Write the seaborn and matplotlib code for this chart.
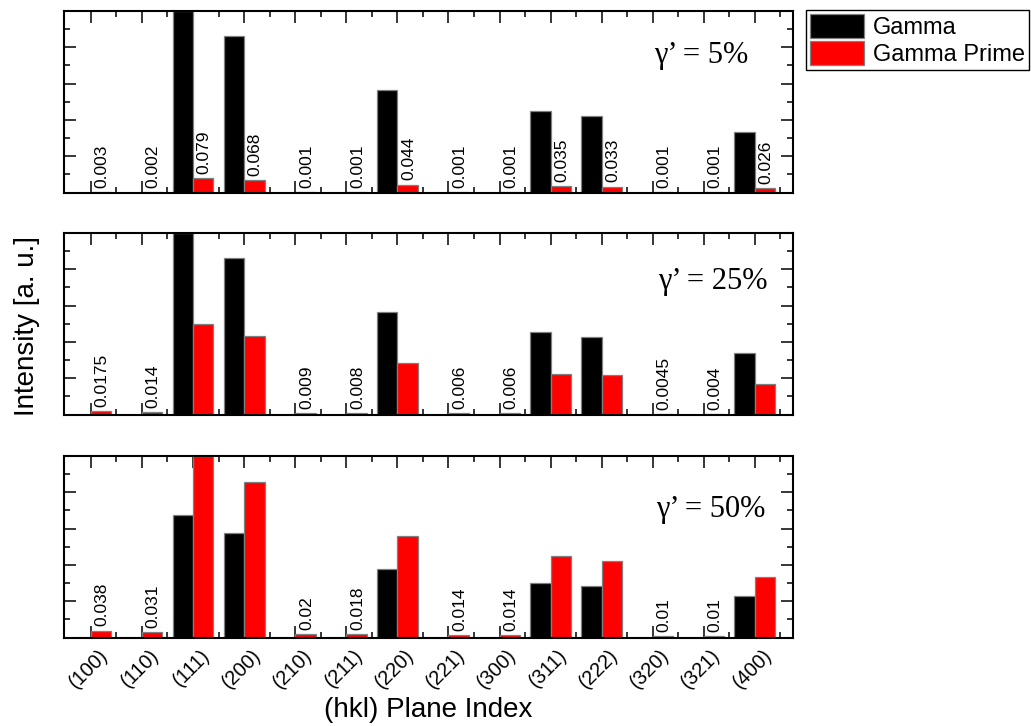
import numpy as np
import pandas as pd
import seaborn as sns
import matplotlib
matplotlib.use("Agg")
import matplotlib.pyplot as plt
from matplotlib.patches import Patch
from matplotlib.ticker import MultipleLocator, FixedLocator
from matplotlib.transforms import ScaledTranslation

# (hkl) reflections
planes = ["(100)", "(110)", "(111)", "(200)", "(210)", "(211)", "(220)",
          "(221)", "(300)", "(311)", "(222)", "(320)", "(321)", "(400)"]
phases = ["Gamma", "Gamma Prime"]

# normalised intensities, gamma' volume fraction 5 %
gamma_5 = [0, 0, 1.0, 0.862, 0, 0, 0.562, 0, 0, 0.451, 0.424, 0, 0, 0.333]
prime_5 = [0.003, 0.002, 0.079, 0.068, 0.001, 0.001, 0.044, 0.001, 0.001,
           0.035, 0.033, 0.001, 0.001, 0.026]
# gamma' volume fraction 25 %
gamma_25 = [0, 0, 1.0, 0.862, 0, 0, 0.564, 0, 0, 0.452, 0.428, 0, 0, 0.338]
prime_25 = [0.0175, 0.014, 0.500, 0.433, 0.009, 0.008, 0.284, 0.006, 0.006,
            0.225, 0.215, 0.0045, 0.004, 0.168]
# gamma' volume fraction 50 %
gamma_50 = [0, 0, 0.674, 0.578, 0, 0, 0.376, 0, 0, 0.302, 0.285, 0, 0, 0.230]
prime_50 = [0.038, 0.031, 1.0, 0.858, 0.02, 0.018, 0.561, 0.014, 0.014,
            0.449, 0.423, 0.01, 0.01, 0.335]

panel_titles = ["\u03b3\u2019 = 5%", "\u03b3\u2019 = 25%", "\u03b3\u2019 = 50%"]

# reflections whose gamma-prime intensity is written on the chart
labelled_5 = planes
labelled_25 = ["(100)", "(110)", "(210)", "(211)", "(221)", "(300)", "(320)", "(321)"]
labelled_50 = labelled_25

panels = [
    (gamma_5, prime_5, labelled_5),
    (gamma_25, prime_25, labelled_25),
    (gamma_50, prime_50, labelled_50),
]

sns.set_style("ticks")
plt.rcParams["font.family"] = ["Liberation Sans", "DejaVu Sans"]
plt.rcParams["text.color"] = "black"
plt.rcParams["axes.labelcolor"] = "black"
plt.rcParams["xtick.color"] = "black"
plt.rcParams["ytick.color"] = "black"

W, H = 1031, 726
fig = plt.figure(figsize=(W / 100, H / 100), dpi=100)

ax_left, ax_right = 64.3, 792.7
panel_tops = [11.0, 233.0, 456.0]
panel_h = 181.5
title_pos = [(748, 62.7), (768, 289), (765, 517)]
colors = {"Gamma": "black", "Gamma Prime": "red"}

axes = []
for k, (gam, pri, lab) in enumerate(panels):
    top = panel_tops[k]
    ax = fig.add_axes([ax_left / W, 1 - (top + panel_h) / H,
                       (ax_right - ax_left) / W, panel_h / H])
    df = pd.DataFrame({
        "plane": planes * 2,
        "phase": [phases[0]] * len(planes) + [phases[1]] * len(planes),
        "intensity": list(gam) + list(pri),
    })
    sns.barplot(data=df, x="plane", y="intensity", hue="phase",
                order=planes, hue_order=phases, palette=colors,
                saturation=1, width=0.8, edgecolor="#808080", linewidth=0.9,
                ax=ax, legend=False)
    ax.set_xlim(-0.52, 13.74)
    ax.set_ylim(0, 1)
    ax.set_xlabel("")
    ax.set_ylabel("")

    # value labels above the gamma-prime bars
    for name in lab:
        j = planes.index(name)
        ax.annotate(f"{pri[j]:g}", xy=(j + 0.22, pri[j]), xytext=(0, 3),
                    textcoords="offset points", rotation=90,
                    ha="center", va="bottom", fontsize=12.5, color="black")

    ax.yaxis.set_major_locator(MultipleLocator(0.2))
    ax.yaxis.set_minor_locator(MultipleLocator(0.1))
    ax.xaxis.set_major_locator(FixedLocator(np.arange(len(planes))))
    ax.xaxis.set_minor_locator(FixedLocator(np.arange(0.5, len(planes) - 0.4, 1)))
    ax.tick_params(which="both", direction="in", top=True, right=True,
                   left=True, bottom=True, labelleft=False, color="black")
    ax.tick_params(which="major", length=8.6, width=1.1)
    ax.tick_params(which="minor", length=4.3, width=1.1)
    for sp in ax.spines.values():
        sp.set_visible(True)
        sp.set_linewidth(1.5)
        sp.set_color("black")

    tx, ty = title_pos[k]
    fig.text(tx / W, 1 - ty / H, panel_titles[k], ha="right", va="baseline",
             fontsize=22, color="black",
             family=["Liberation Serif", "DejaVu Serif"])
    axes.append(ax)

for ax in axes[:-1]:
    ax.tick_params(labelbottom=False)

bottom_ax = axes[-1]
bottom_ax.set_xticks(np.arange(len(planes)))
bottom_ax.set_xticklabels(planes, rotation=45, ha="right", va="top",
                          rotation_mode="anchor", fontsize=14.5, color="black")
offset = ScaledTranslation(7 / 100, -3 / 100, fig.dpi_scale_trans)
for lbl in bottom_ax.get_xticklabels():
    lbl.set_transform(lbl.get_transform() + offset)

fig.text(428.5 / W, 1 - 710 / H, "(hkl) Plane Index", ha="center",
         va="center", fontsize=20, color="black")
fig.text(27 / W, 1 - 326 / H, "Intensity [a. u.]", ha="center",
         va="center", rotation=90, fontsize=20, color="black")

handles = [Patch(facecolor=colors[p], edgecolor="#808080", linewidth=0.9)
           for p in phases]
leg = fig.legend(handles, phases, loc="upper left",
                 bbox_to_anchor=(806 / W, 1 - 10 / H), fontsize=17,
                 frameon=True, fancybox=False, edgecolor="black",
                 framealpha=1, borderpad=0.15, labelspacing=0.1,
                 handlelength=2.3, handleheight=1.2, handletextpad=0.4,
                 borderaxespad=0)
leg.get_frame().set_linewidth(1.0)
for t in leg.get_texts():
    t.set_color("black")

fig.savefig("out.png", dpi=100)
